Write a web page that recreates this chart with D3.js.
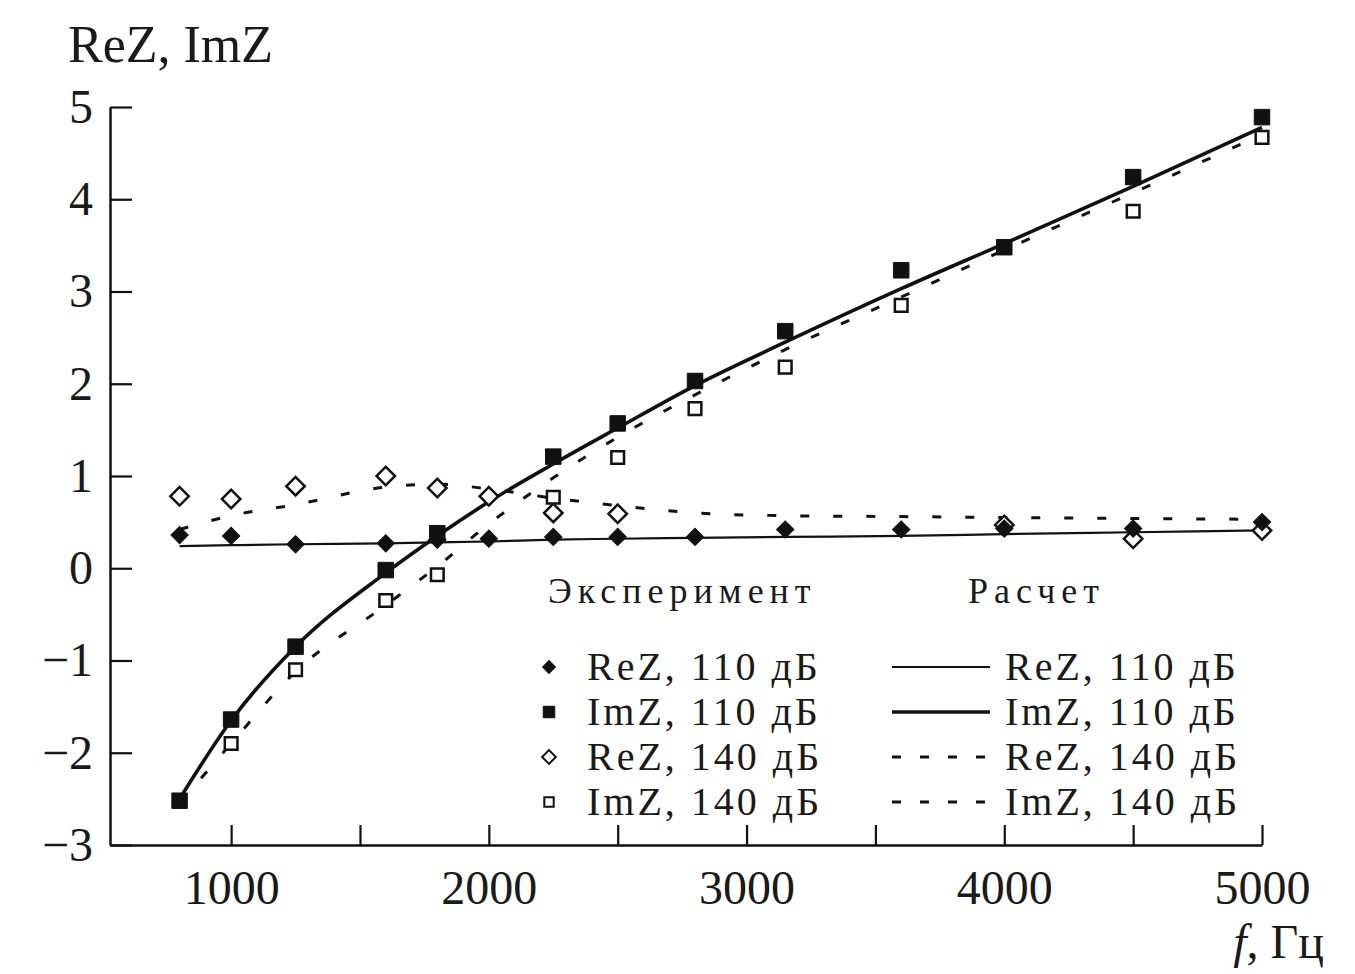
<!DOCTYPE html>
<html>
<head>
<meta charset="utf-8">
<script src="https://cdn.jsdelivr.net/npm/d3@7"></script>
<style>
  body { margin: 0; background: #fff; }
  text { font-family: "Liberation Serif", "Times New Roman", serif; fill: #1a1a1a; }
</style>
</head>
<body>
<div id="chart"></div>
<script>
// frequencies, Hz
var freqs = [800, 1000, 1250, 1600, 1800, 2000, 2250, 2500, 2800, 3150, 3600, 4000, 4500, 5000];

// experiment (null = no visible marker)
var expReZ110 = [0.36, 0.35, 0.26, 0.27, 0.31, 0.32, 0.34, 0.34, 0.34, 0.42, 0.42, 0.43, 0.43, 0.50];
var expImZ110 = [-2.52, -1.64, -0.85, -0.02, 0.38, null, 1.21, 1.57, 2.03, 2.57, 3.23, 3.48, 4.24, 4.89];
var expReZ140 = [0.78, 0.75, 0.89, 1.00, 0.87, 0.78, 0.60, 0.59, null, null, null, 0.47, 0.32, 0.41];
var expImZ140 = [null, -1.90, -1.10, -0.35, -0.07, null, 0.77, 1.20, 1.73, 2.18, 2.85, null, 3.87, 4.67];

// calculation
var calcReZ110 = [0.24, 0.25, 0.26, 0.27, 0.28, 0.29, 0.31, 0.32, 0.33, 0.34, 0.35, 0.37, 0.39, 0.41];
var calcImZ110 = [-2.50, -1.65, -0.85, -0.05, 0.35, 0.72, 1.13, 1.52, 1.98, 2.45, 3.03, 3.52, 4.14, 4.78];
var calcReZ140 = [0.42, 0.57, 0.69, 0.88, 0.91, 0.86, 0.76, 0.68, 0.60, 0.57, 0.56, 0.55, 0.54, 0.53];
var calcImZ140 = [-2.55, -1.90, -1.12, -0.40, 0.02, 0.48, 0.98, 1.42, 1.88, 2.37, 2.94, 3.45, 4.07, 4.70];

var yTicks = [-3, -2, -1, 0, 1, 2, 3, 4, 5];
var xTicks = [1000, 1500, 2000, 2500, 3000, 3500, 4000, 4500, 5000];
var seriesNames = ["ReZ, 110 дБ", "ImZ, 110 дБ", "ReZ, 140 дБ", "ImZ, 140 дБ"];

const width = 1355, height = 974;

const svg = d3.select("#chart")
  .append("svg")
  .attr("width", width)
  .attr("height", height);

var x = d3.scaleLinear().domain([530, 5000]).range([110, 1262]);
var y = d3.scaleLinear().domain([-3, 5]).range([845, 107]);

// axes, ticks pointing inward
var yAxis = svg.append("g")
  .attr("transform", "translate(110,0)")
  .call(d3.axisLeft(y).tickValues(yTicks).tickSizeInner(-22).tickSizeOuter(0).tickPadding(17));

var xAxis = svg.append("g")
  .attr("transform", "translate(0,845)")
  .call(d3.axisBottom(x).tickValues(xTicks).tickSizeInner(-20).tickSizeOuter(0).tickPadding(25)
    .tickFormat(d => d % 1000 == 0 ? d : ""));

[yAxis, xAxis].forEach(a => {
  a.select(".domain").attr("stroke", "#111").attr("stroke-width", 2.5);
  a.selectAll(".tick line").attr("stroke", "#111").attr("stroke-width", 2.2);
  a.selectAll(".tick text").style("font-size", "48px").attr("fill", "#1a1a1a")
    .style("font-family", "'Liberation Serif', serif");
});

svg.append("text")
  .attr("x", 68).attr("y", 62)
  .style("font-size", "52px")
  .text("ReZ, ImZ");

var fLabel = svg.append("text")
  .attr("x", 1324).attr("y", 958)
  .attr("text-anchor", "end")
  .style("font-size", "48px");
fLabel.append("tspan").style("font-style", "italic").text("f");
fLabel.append("tspan").text(", Гц");

// calculated curves
var calcStyles = [
  { values: calcReZ110, width: 2.2, dash: null },
  { values: calcImZ110, width: 3.6, dash: null },
  { values: calcReZ140, width: 3, dash: "9,24" },
  { values: calcImZ140, width: 3, dash: "9,24" }
];

var line = d3.line()
  .x(d => x(d.f))
  .y(d => y(d.v))
  .curve(d3.curveMonotoneX);

calcStyles.forEach(s => {
  svg.append("path")
    .datum(freqs.map((f, i) => ({ f: f, v: s.values[i] })))
    .attr("fill", "none")
    .attr("stroke", "#111")
    .attr("stroke-width", s.width)
    .attr("stroke-dasharray", s.dash)
    .attr("d", line);
});

// experiment markers
var markerStyles = [
  { values: expReZ110, shape: "diamond", filled: true, size: 150 },
  { values: expImZ110, shape: "square", filled: true, size: 240 },
  { values: expReZ140, shape: "diamond", filled: false, size: 170 },
  { values: expImZ140, shape: "square", filled: false, size: 160 }
];

function drawMarker(g, m, cx, cy, size, sw) {
  g.append("path")
    .attr("d", d3.symbol().type(d3.symbolSquare).size(size)())
    .attr("transform", "translate(" + cx + "," + cy + ")" + (m.shape == "diamond" ? " rotate(45)" : ""))
    .attr("fill", m.filled ? "#111" : "#fff")
    .attr("stroke", "#111")
    .attr("stroke-width", m.filled ? 1 : sw);
}

// hollow first, filled on top
[2, 3, 0, 1].forEach(k => {
  var m = markerStyles[k];
  var g = svg.append("g");
  freqs.forEach((f, i) => {
    if (m.values[i] != null) drawMarker(g, m, x(f), y(m.values[i]), m.size, 2.5);
  });
});

// legend
var legend = svg.append("g");
legend.append("text").attr("x", 548).attr("y", 603)
  .style("font-size", "36px").style("letter-spacing", "6px").text("Эксперимент");
legend.append("text").attr("x", 968).attr("y", 603)
  .style("font-size", "36px").style("letter-spacing", "6px").text("Расчет");

var rowY = [667, 712, 757, 802];
seriesNames.forEach((name, i) => {
  drawMarker(legend, markerStyles[i], 549, rowY[i], markerStyles[i].size * 0.55, 2);
  legend.append("text").attr("x", 587).attr("y", rowY[i] + 13)
    .style("font-size", "40px").style("letter-spacing", "3px").text(name);

  legend.append("line")
    .attr("x1", 892).attr("x2", 990)
    .attr("y1", rowY[i]).attr("y2", rowY[i])
    .attr("stroke", "#111")
    .attr("stroke-width", calcStyles[i].width)
    .attr("stroke-dasharray", calcStyles[i].dash ? "9,19" : null);
  legend.append("text").attr("x", 1005).attr("y", rowY[i] + 13)
    .style("font-size", "40px").style("letter-spacing", "3px").text(name);
});
</script>
</body>
</html>
